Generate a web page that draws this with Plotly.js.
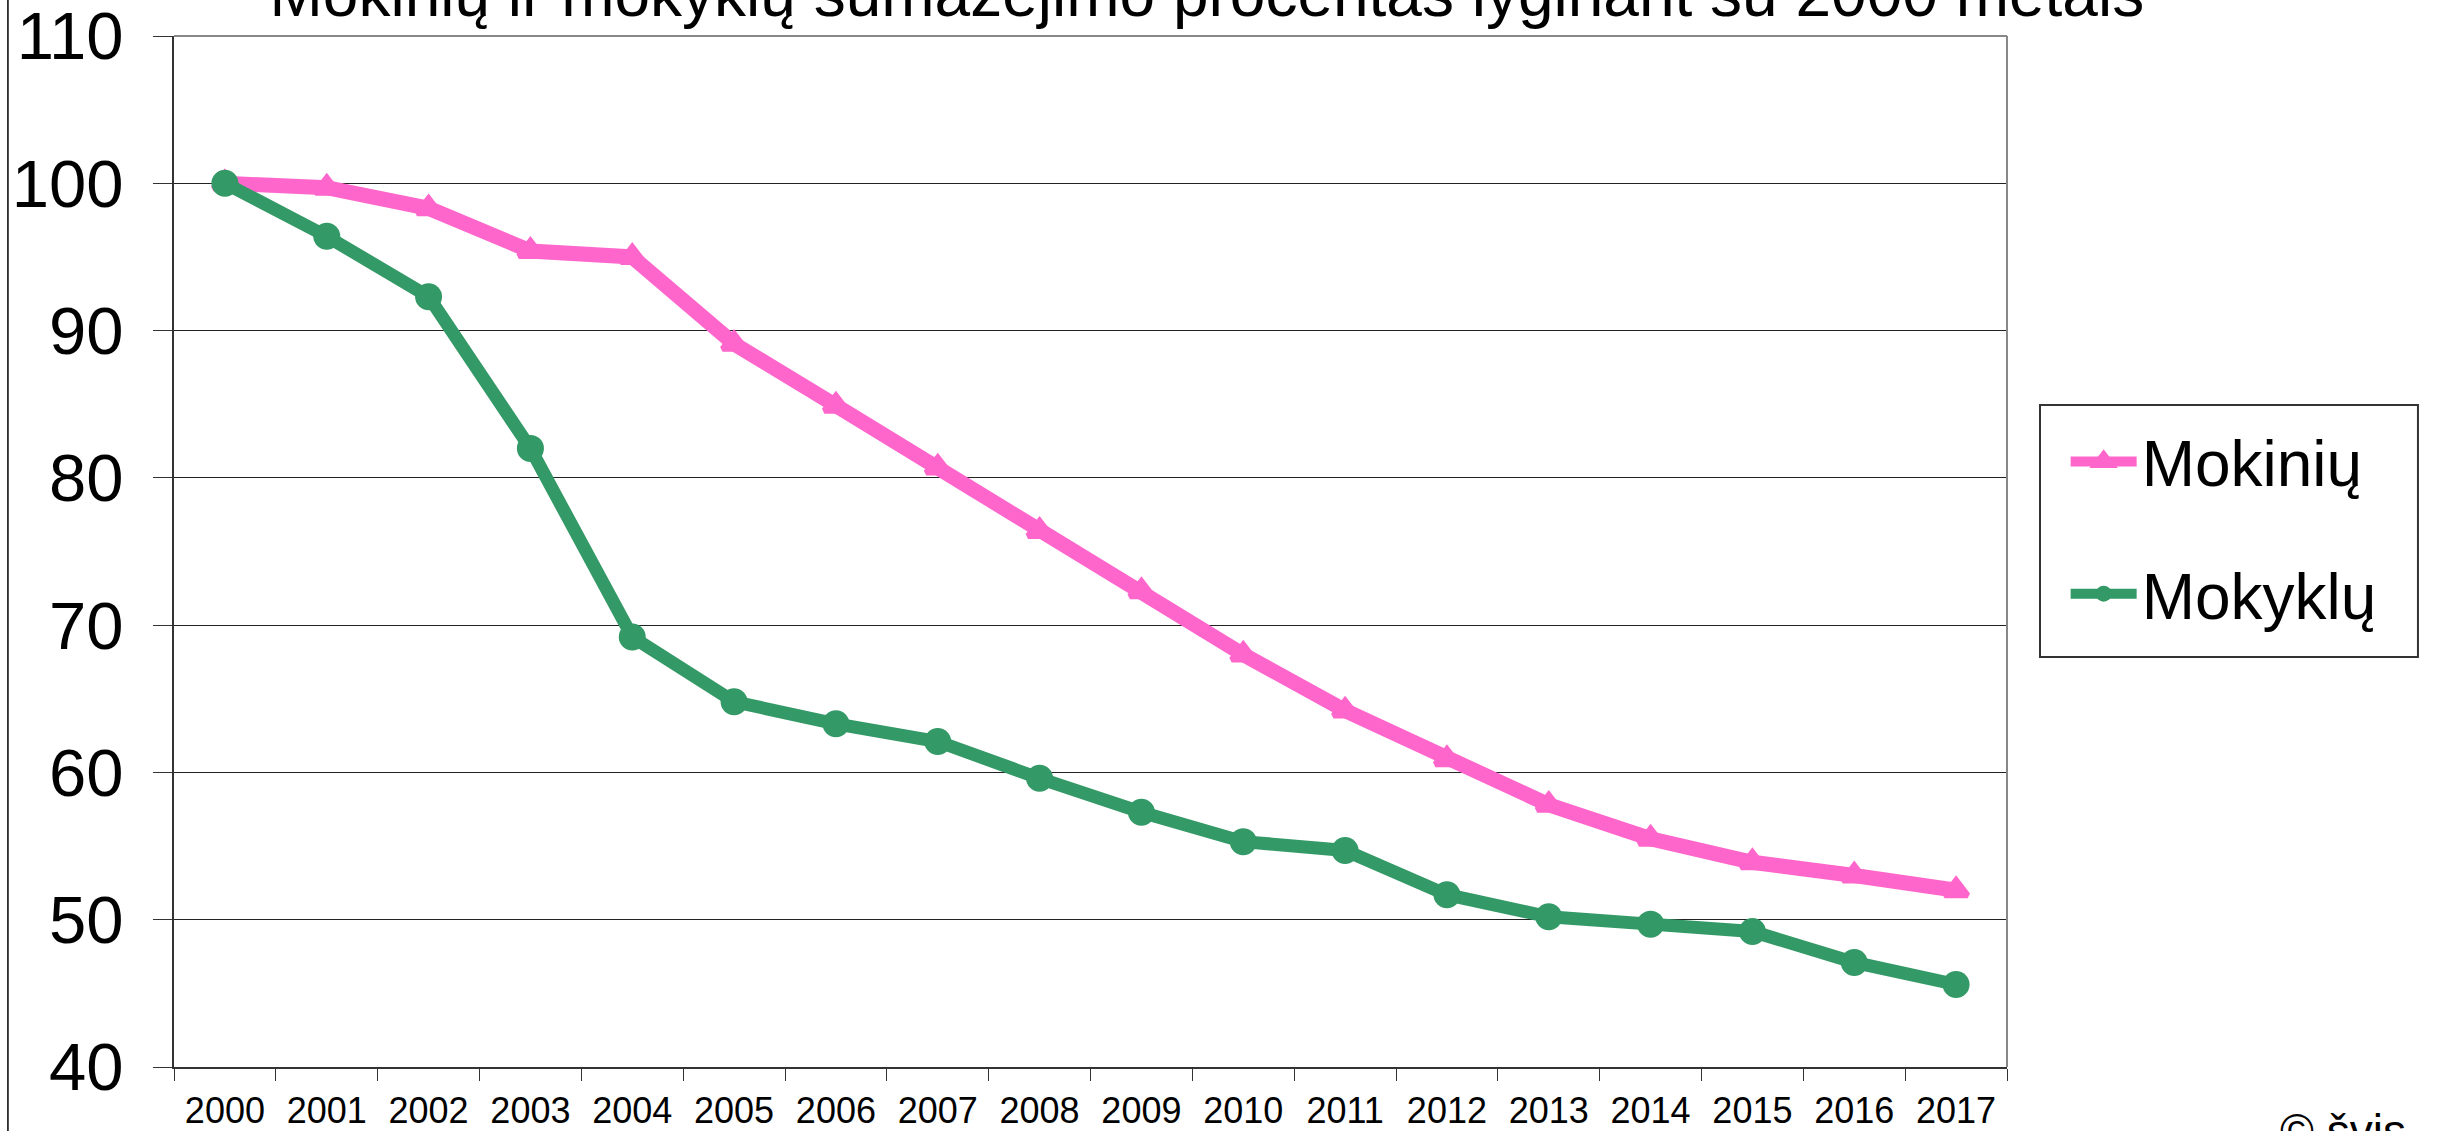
<!DOCTYPE html>
<html>
<head>
<meta charset="utf-8">
<script src="https://cdn.plot.ly/plotly-3.0.1.min.js"></script>
<style>html,body{margin:0;padding:0;background:#fff;}#chart{width:2443px;height:1131px;}</style>
</head>
<body>
<div id="chart"></div>
<script>
const years = ['2000','2001','2002','2003','2004','2005','2006','2007','2008','2009','2010','2011','2012','2013','2014','2015','2016','2017'];
const mokiniu = [100, 99.7, 98.3, 95.4, 95.0, 89.1, 84.9, 80.7, 76.4, 72.3, 68.0, 64.2, 60.9, 57.8, 55.5, 53.9, 53.0, 52.0];
const mokyklu = [100, 96.4, 92.3, 82.0, 69.2, 64.8, 63.3, 62.1, 59.6, 57.3, 55.3, 54.7, 51.7, 50.2, 49.7, 49.2, 47.1, 45.6];
const seriesNames = ['Mokinių', 'Mokyklų'];
const titleText = 'Mokinių ir mokyklų sumažėjimo procentas lyginant su 2000 metais';
const sourceText = '© švis';

const FONT = 'Liberation Sans, Arial, sans-serif';
const pink = '#FF66CC';
const green = '#339966';

const traces = [
  {
    x: years, y: mokiniu, name: seriesNames[0], type: 'scatter', mode: 'lines+markers',
    legendgroup: 'a',
    line: {color: pink, width: 15},
    marker: {symbol: 'triangle-up', size: 20, color: pink, line: {color: pink, width: 6}}
  },
  {
    x: years, y: mokyklu, name: seriesNames[1], type: 'scatter', mode: 'lines+markers',
    legendgroup: 'b',
    line: {color: green, width: 13},
    marker: {symbol: 'circle', size: 27, color: green}
  }
];

const layout = {
  width: 2443, height: 1131,
  paper_bgcolor: '#fff', plot_bgcolor: '#fff',
  font: {family: FONT, color: '#000'},
  margin: {l: 174, r: 436, t: 36, b: 64, autoexpand: false},
  title: {
    text: titleText,
    font: {family: FONT, size: 64, color: '#000'},
    xref: 'container', x: 0.494, xanchor: 'center',
    yref: 'container', y: 1, yanchor: 'top',
    pad: {t: -29}
  },
  xaxis: {
    type: 'category', range: [-0.5, 17.5],
    tickson: 'boundaries', ticks: 'outside', ticklen: 12, tickwidth: 1, tickcolor: '#333',
    showline: true, linecolor: '#333', linewidth: 2,
    showgrid: false, zeroline: false,
    tickfont: {family: FONT, size: 36, color: '#000'},
    ticklabelstandoff: 11, ticklabeloverflow: 'allow'
  },
  yaxis: {
    range: [40, 110], tick0: 40, dtick: 10,
    ticks: 'outside', ticklen: 19, tickwidth: 1, tickcolor: '#333',
    showline: true, linecolor: '#333', linewidth: 2,
    showgrid: true, gridcolor: '#222', gridwidth: 1, zeroline: false,
    tickfont: {family: FONT, size: 67, color: '#000'},
    ticklabelstandoff: 16, ticklabeloverflow: 'allow'
  },
  legend: {
    x: 1.032, xanchor: 'left', y: 0.634, yanchor: 'top',
    borderwidth: 0, bgcolor: 'rgba(0,0,0,0)',
    font: {family: FONT, size: 64, color: '#000'},
    itemwidth: 66, tracegroupgap: 46
  },
  shapes: [
    {type: 'line', xref: 'paper', yref: 'paper', x0: 0, x1: 1, y0: 1, y1: 1, line: {color: '#888', width: 2}},
    {type: 'line', xref: 'paper', yref: 'paper', x0: 1, x1: 1, y0: 0, y1: 1, line: {color: '#888', width: 2}},
    {type: 'line', xref: 'paper', yref: 'paper', x0: -0.0906, x1: -0.0906, y0: -0.07, y1: 1.04, line: {color: '#000', width: 1.5}},
    {type: 'rect', xref: 'paper', yref: 'paper', x0: 1.0180, x1: 1.2242, y0: 0.3977, y1: 0.6421, line: {color: '#333', width: 2}, fillcolor: 'rgba(0,0,0,0)'}
  ],
  annotations: [
    {text: sourceText, xref: 'paper', yref: 'paper', x: 1.148, xanchor: 'left', y: -0.035, yanchor: 'top',
     showarrow: false, font: {family: FONT, size: 46, color: '#000'}}
  ],
  showlegend: true
};

Plotly.newPlot('chart', traces, layout, {displayModeBar: false, staticPlot: true});
</script>
</body>
</html>
